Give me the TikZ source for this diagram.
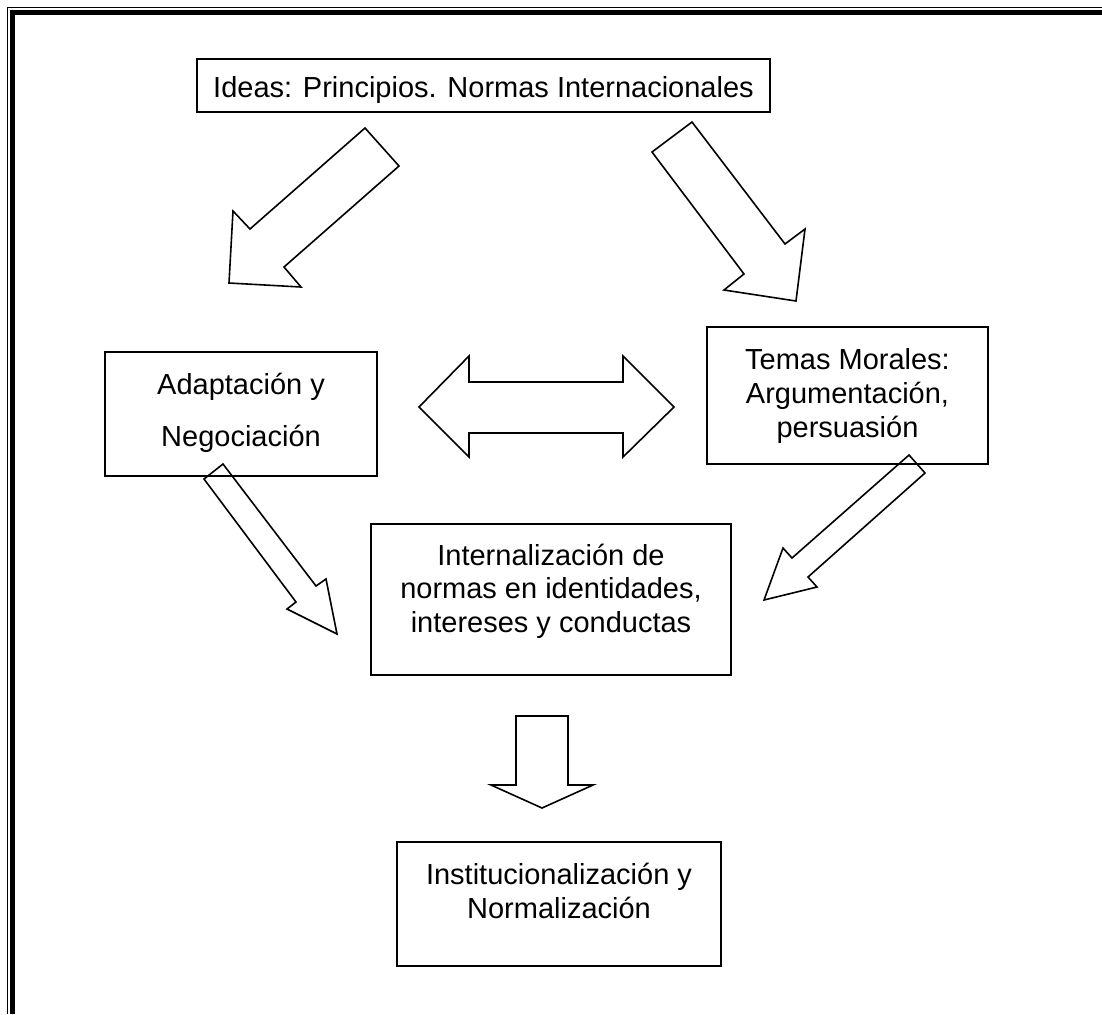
\documentclass[tikz,border=0pt]{standalone}
\usepackage{fontspec}
\setmainfont{Liberation Sans}
\newcommand{\topstrut}{\rule{0pt}{14pt}}
\begin{document}
\begin{tikzpicture}
        [x=0.5pt,y=-0.5pt,
         box/.style={draw,line width=0.8pt,inner sep=0},
         txt/.style={align=center,anchor=north,font=\fontsize{14.5}{17}\selectfont,inner sep=0},
         blockarrow/.style={draw,line width=0.8pt,line join=miter}]

        \useasboundingbox (0,0) rectangle (1102,1014);

        \draw[line width=0.6pt] (7.5,1014) -- (7.5,7.5) -- (1102,7.5);
        \draw[line width=2.4pt] (12.8,1014) -- (12.8,12.8) -- (1102,12.8);

        \node[box,minimum width=286.5pt,minimum height=26.5pt] (ideas) at (483.5,85.5) {};
        \node[box,minimum width=136pt,minimum height=62pt] (adapt) at (241,414) {};
        \node[box,minimum width=140.5pt,minimum height=68.5pt] (temas) at (847.5,395.5) {};
        \node[box,minimum width=180pt,minimum height=75.5pt] (intern) at (551,599.5) {};
        \node[box,minimum width=162pt,minimum height=62pt] (instit) at (559,904) {};

        \node[txt] (ideastxt) at (483.5,69) {\topstrut Ideas: Principios. Normas Internacionales};
        \node[txt,font=\fontsize{14.5}{26}\selectfont] (adapttxt) at (241,366) {\topstrut Adaptación y\\Negociación};
        \node[txt] (temastxt) at (847.5,341) {\topstrut Temas Morales:\\Argumentación,\\persuasión};
        \node[txt,font=\fontsize{14.5}{16.75}\selectfont] (interntxt) at (551,537) {\topstrut Internalización de\\normas en identidades,\\intereses y conductas};
        \node[txt] (instittxt) at (559,856) {\topstrut Institucionalización y\\Normalización};

        \draw[blockarrow] (365,128) -- (399,166) -- (284,267) -- (301,287) -- (229,283) -- (233,211) -- (250,229) -- cycle;
        \draw[blockarrow] (692,122) -- (652,152) -- (744,274) -- (724,290) -- (796,301) -- (805,229) -- (785,244) -- cycle;
        \draw[blockarrow] (419,407) -- (469,356) -- (469,382) -- (623,382) -- (623,356) -- (674,407)
                -- (623,457) -- (623,433) -- (469,433) -- (469,457) -- cycle;
        \draw[blockarrow] (223,464) -- (204,479) -- (296,602) -- (287,609) -- (337,634) -- (326,579) -- (316,586) -- cycle;
        \draw[blockarrow] (909,455) -- (925,473) -- (808,577) -- (817,587) -- (764,600) -- (783,548) -- (792,558) -- cycle;
        \draw[blockarrow] (516,716) -- (568,716) -- (568,785) -- (593,785) -- (542,808) -- (491,785) -- (516,785) -- cycle;
      \end{tikzpicture}
\end{document}
